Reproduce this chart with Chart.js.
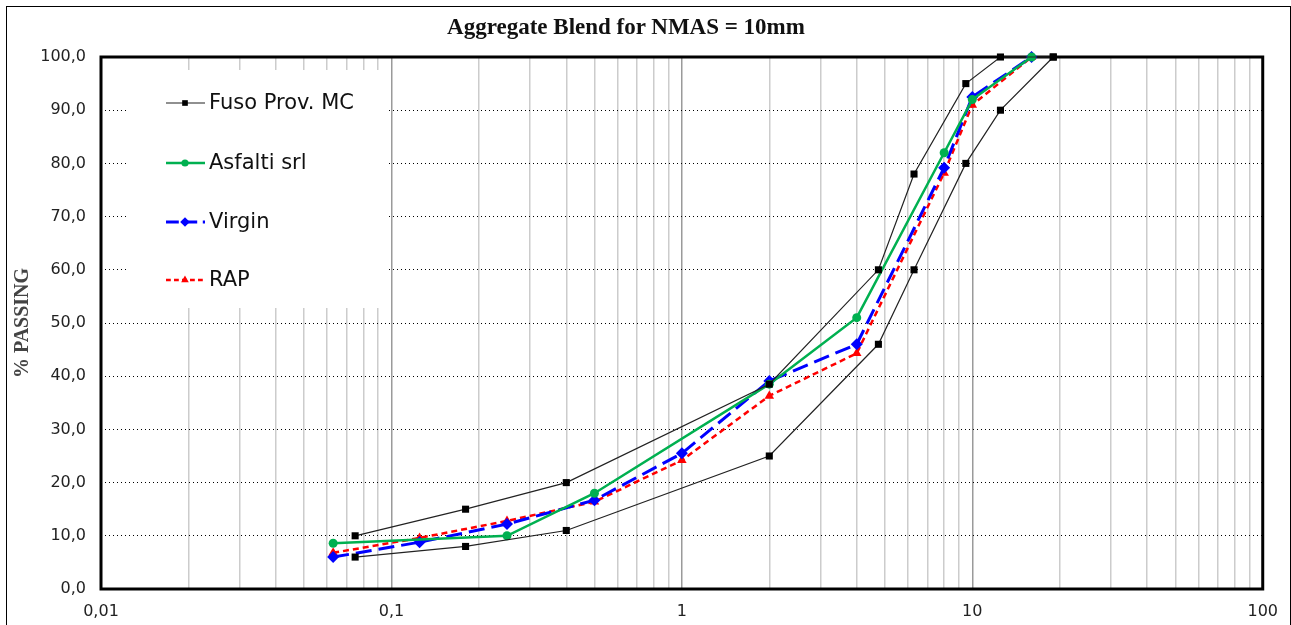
<!DOCTYPE html>
<html>
<head>
<meta charset="utf-8">
<script src="https://cdn.jsdelivr.net/npm/chart.js@4"></script>
<style>
  html, body { margin: 0; padding: 0; background: #fff; overflow: hidden; }
  #frame { position: absolute; left: 6px; top: 6px; width: 1283px; height: 640px; border: 1px solid #000; }
  #titolo { position: absolute; left: 0; width: 1252px; top: 14px; text-align: center;
            font: bold 23px "Liberation Serif", serif; color: #111; }
  #wrap { position: absolute; left: 0; top: 0; width: 1291px; height: 625px; }
</style>
</head>
<body>
<div id="frame"></div>
<div id="wrap"><canvas id="grafico"></canvas></div>
<div id="titolo">Aggregate Blend for NMAS = 10mm</div>
<script>
var titolo = 'Aggregate Blend for NMAS = 10mm';
var titoloAsseY = '% PASSING';

// setacci (mm) e passanti (%)
var setacciFuso = [0.075, 0.18, 0.4, 2, 4.75, 6.3, 9.5, 12.5, 19];
var fusoSup = [10, 15, 20, 38.5, 60, 78, 95, 100, 100];
var fusoInf = [6, 8, 11, 25, 46, 60, 80, 90, 100];

var setacciAsfalti = [0.063, 0.25, 0.5, 2, 4, 8, 10, 16];
var asfalti = [8.6, 10, 18, 38.5, 51, 82, 92, 100];

var setacciMiscela = [0.063, 0.125, 0.25, 0.5, 1, 2, 4, 8, 10, 16];
var virgin = [6.0, 8.8, 12.2, 16.7, 25.5, 39.1, 46, 79.2, 92.5, 100];
var rap = [6.8, 9.6, 12.8, 16.4, 24.2, 36.3, 44.3, 78.2, 91, 100];

var tickX = [0.01, 0.1, 1, 10, 100];
var etichetteX = ['0,01', '0,1', '1', '10', '100'];

document.getElementById('titolo').textContent = titolo;

function punti(xs, ys) {
    return xs.map(function (x, i) { return { x: x, y: ys[i] }; });
}

// linee della griglia verticale: 1..9 per ogni decade
var lineeGriglia = [];
for (var d = 0; d < 4; d++) {
    for (var s = 1; s <= 9; s++) {
        lineeGriglia.push({ value: tickX[d] * s, major: s == 1 });
    }
}
lineeGriglia.push({ value: 100, major: true });

const datasets = [
    {
        label: 'Fuso Prov. MC', data: punti(setacciFuso, fusoSup),
        borderColor: '#222', backgroundColor: '#000', borderWidth: 1.2,
        pointStyle: 'rect', pointRadius: 5, pointBorderWidth: 0
    },
    {
        label: 'Fuso inf', data: punti(setacciFuso, fusoInf),
        borderColor: '#222', backgroundColor: '#000', borderWidth: 1.2,
        pointStyle: 'rect', pointRadius: 5, pointBorderWidth: 0
    },
    {
        label: 'Asfalti srl', data: punti(setacciAsfalti, asfalti),
        borderColor: '#00b050', backgroundColor: '#00b050', borderWidth: 2.5,
        pointStyle: 'circle', pointRadius: 4.5, pointBorderWidth: 0
    },
    {
        label: 'Virgin', data: punti(setacciMiscela, virgin),
        borderColor: '#0000ff', backgroundColor: '#0000ff', borderWidth: 3,
        borderDash: [16, 7],
        pointStyle: 'rectRot', pointRadius: 6, pointBorderWidth: 0
    },
    {
        label: 'RAP', data: punti(setacciMiscela, rap),
        borderColor: '#ff0000', backgroundColor: '#ff0000', borderWidth: 2.5,
        borderDash: [6, 4],
        pointStyle: 'triangle', pointRadius: 5.5, pointBorderWidth: 0
    }
];
datasets.forEach(function (ds) { ds.showLine = true; ds.tension = 0; ds.clip = false; });

// box bianco della legenda + cornice spessa dell'area del grafico
const cornice = {
    id: 'cornice',
    beforeDatasetsDraw(chart) {
        const ctx = chart.ctx, a = chart.chartArea;
        ctx.save();
        ctx.fillStyle = '#fff';
        ctx.fillRect(127, 70, 261, 238);
        ctx.strokeStyle = '#000';
        ctx.lineWidth = 3;
        ctx.strokeRect(a.left, a.top, a.right - a.left, a.bottom - a.top);
        ctx.restore();
    },
    afterDraw(chart) {
        const ctx = chart.ctx;
        const voci = [0, 2, 3, 4];
        const yVoci = [103, 163, 222, 280];
        ctx.save();
        voci.forEach(function (idx, i) {
            const ds = chart.data.datasets[idx];
            const y = yVoci[i];
            ctx.save();
            ctx.strokeStyle = ds.borderColor;
            ctx.lineWidth = ds.borderWidth;
            ctx.setLineDash(ds.borderDash ? ds.borderDash.map(function (v) { return v * 0.8; }) : []);
            ctx.beginPath();
            ctx.moveTo(166, y);
            ctx.lineTo(205, y);
            ctx.stroke();
            ctx.restore();
            ctx.fillStyle = ds.backgroundColor;
            Chart.helpers.drawPoint(ctx, { pointStyle: ds.pointStyle, radius: ds.pointRadius * 0.8, borderWidth: 0 }, 185, y);
            ctx.fillStyle = '#111';
            ctx.font = '21px "DejaVu Sans"';
            ctx.textAlign = 'left';
            ctx.textBaseline = 'middle';
            ctx.fillText(ds.label, 209, y + 1);
        });
        ctx.restore();
    }
};

const config = {
    type: 'scatter',
    data: { datasets: datasets },
    options: {
        responsive: false,
        animation: false,
        layout: { padding: { top: 57, right: 28, left: 0, bottom: 0 } },
        plugins: { legend: { display: false }, title: { display: false }, tooltip: { enabled: false } },
        scales: {
            x: {
                type: 'logarithmic', min: 0.01, max: 100,
                afterBuildTicks: function (scale) { scale.ticks = lineeGriglia.slice(); },
                afterFit: function (scale) { scale.height = 36; },
                ticks: {
                    autoSkip: false, maxRotation: 0, padding: 13,
                    color: '#222', font: { family: 'DejaVu Sans', size: 16 },
                    callback: function (v) {
                        var i = tickX.findIndex(function (t) { return Math.abs(t - v) < t * 1e-6; });
                        return i >= 0 ? etichetteX[i] : '';
                    }
                },
                grid: {
                    drawTicks: false, lineWidth: 1.5,
                    color: function (c) { return c.tick && c.tick.major ? '#9a9a9a' : '#cccccc'; }
                },
                border: { display: false }
            },
            y: {
                min: 0, max: 100,
                afterFit: function (scale) { scale.width = 101; },
                ticks: {
                    stepSize: 10, padding: 15, color: '#222',
                    font: { family: 'DejaVu Sans', size: 16 },
                    callback: function (v) { return v.toFixed(1).replace('.', ','); }
                },
                grid: { drawTicks: false, color: '#000', lineWidth: 1 },
                border: { display: false, dash: [1, 3] },
                title: {
                    display: true, text: titoloAsseY, color: '#444',
                    padding: { top: 11, bottom: 0 },
                    font: { family: 'Liberation Serif', size: 20, weight: 'bold' }
                }
            }
        }
    },
    plugins: [cornice]
};

const canvas = document.getElementById('grafico');
canvas.width = 1291;
canvas.height = 625;
new Chart(canvas, config);
</script>
</body>
</html>
